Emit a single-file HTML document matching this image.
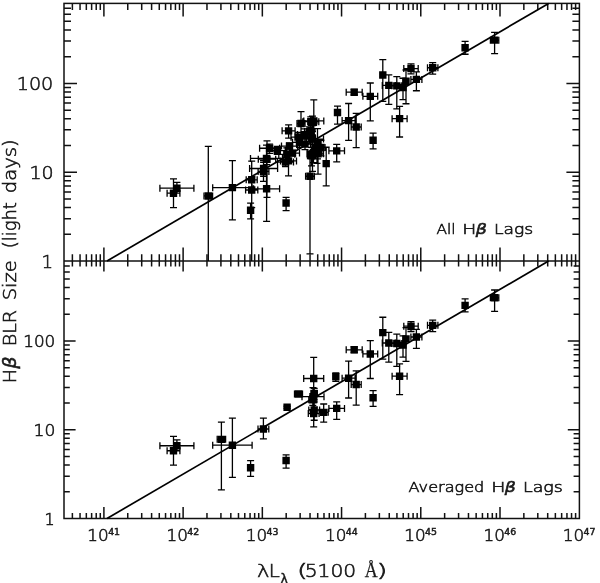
<!DOCTYPE html>
<html lang="en"><head><meta charset="utf-8"><title>H-beta BLR size vs luminosity</title>
<style>html,body{margin:0;padding:0;background:#fff}svg{display:block}</style></head>
<body>
<svg width="600" height="583" viewBox="0 0 600 583">
<rect width="600" height="583" fill="#fff"/>
<g stroke="#111" stroke-width="1.5" fill="none" stroke-linecap="butt">
<rect x="64.0" y="3.4" width="515.40" height="515.10"/>
<line x1="64.0" y1="261.0" x2="579.4" y2="261.0"/>
<path d="M72.38 3.4v6.50M80.05 3.4v6.50M86.33 3.4v6.50M91.63 3.4v6.50M96.22 3.4v6.50M100.28 3.4v6.50M103.90 3.4v13.00M127.75 3.4v6.50M141.70 3.4v6.50M151.60 3.4v6.50M159.27 3.4v6.50M165.55 3.4v6.50M170.85 3.4v6.50M175.44 3.4v6.50M179.50 3.4v6.50M183.12 3.4v13.00M206.97 3.4v6.50M220.92 3.4v6.50M230.82 3.4v6.50M238.49 3.4v6.50M244.77 3.4v6.50M250.07 3.4v6.50M254.66 3.4v6.50M258.72 3.4v6.50M262.34 3.4v13.00M286.19 3.4v6.50M300.14 3.4v6.50M310.04 3.4v6.50M317.71 3.4v6.50M323.99 3.4v6.50M329.29 3.4v6.50M333.88 3.4v6.50M337.94 3.4v6.50M341.56 3.4v13.00M365.41 3.4v6.50M379.36 3.4v6.50M389.26 3.4v6.50M396.93 3.4v6.50M403.21 3.4v6.50M408.51 3.4v6.50M413.10 3.4v6.50M417.16 3.4v6.50M420.78 3.4v13.00M444.63 3.4v6.50M458.58 3.4v6.50M468.48 3.4v6.50M476.15 3.4v6.50M482.43 3.4v6.50M487.73 3.4v6.50M492.32 3.4v6.50M496.38 3.4v6.50M500.00 3.4v13.00M523.85 3.4v6.50M537.80 3.4v6.50M547.70 3.4v6.50M555.37 3.4v6.50M561.65 3.4v6.50M566.95 3.4v6.50M571.54 3.4v6.50M575.60 3.4v6.50M72.38 261.0v-6.80M80.05 261.0v-6.80M86.33 261.0v-6.80M91.63 261.0v-6.80M96.22 261.0v-6.80M100.28 261.0v-6.80M103.90 261.0v-13.50M127.75 261.0v-6.80M141.70 261.0v-6.80M151.60 261.0v-6.80M159.27 261.0v-6.80M165.55 261.0v-6.80M170.85 261.0v-6.80M175.44 261.0v-6.80M179.50 261.0v-6.80M183.12 261.0v-13.50M206.97 261.0v-6.80M220.92 261.0v-6.80M230.82 261.0v-6.80M238.49 261.0v-6.80M244.77 261.0v-6.80M250.07 261.0v-6.80M254.66 261.0v-6.80M258.72 261.0v-6.80M262.34 261.0v-13.50M286.19 261.0v-6.80M300.14 261.0v-6.80M310.04 261.0v-6.80M317.71 261.0v-6.80M323.99 261.0v-6.80M329.29 261.0v-6.80M333.88 261.0v-6.80M337.94 261.0v-6.80M341.56 261.0v-13.50M365.41 261.0v-6.80M379.36 261.0v-6.80M389.26 261.0v-6.80M396.93 261.0v-6.80M403.21 261.0v-6.80M408.51 261.0v-6.80M413.10 261.0v-6.80M417.16 261.0v-6.80M420.78 261.0v-13.50M444.63 261.0v-6.80M458.58 261.0v-6.80M468.48 261.0v-6.80M476.15 261.0v-6.80M482.43 261.0v-6.80M487.73 261.0v-6.80M492.32 261.0v-6.80M496.38 261.0v-6.80M500.00 261.0v-13.50M523.85 261.0v-6.80M537.80 261.0v-6.80M547.70 261.0v-6.80M555.37 261.0v-6.80M561.65 261.0v-6.80M566.95 261.0v-6.80M571.54 261.0v-6.80M575.60 261.0v-6.80M72.38 261.0v5.40M80.05 261.0v5.40M86.33 261.0v5.40M91.63 261.0v5.40M96.22 261.0v5.40M100.28 261.0v5.40M103.90 261.0v10.60M127.75 261.0v5.40M141.70 261.0v5.40M151.60 261.0v5.40M159.27 261.0v5.40M165.55 261.0v5.40M170.85 261.0v5.40M175.44 261.0v5.40M179.50 261.0v5.40M183.12 261.0v10.60M206.97 261.0v5.40M220.92 261.0v5.40M230.82 261.0v5.40M238.49 261.0v5.40M244.77 261.0v5.40M250.07 261.0v5.40M254.66 261.0v5.40M258.72 261.0v5.40M262.34 261.0v10.60M286.19 261.0v5.40M300.14 261.0v5.40M310.04 261.0v5.40M317.71 261.0v5.40M323.99 261.0v5.40M329.29 261.0v5.40M333.88 261.0v5.40M337.94 261.0v5.40M341.56 261.0v10.60M365.41 261.0v5.40M379.36 261.0v5.40M389.26 261.0v5.40M396.93 261.0v5.40M403.21 261.0v5.40M408.51 261.0v5.40M413.10 261.0v5.40M417.16 261.0v5.40M420.78 261.0v10.60M444.63 261.0v5.40M458.58 261.0v5.40M468.48 261.0v5.40M476.15 261.0v5.40M482.43 261.0v5.40M487.73 261.0v5.40M492.32 261.0v5.40M496.38 261.0v5.40M500.00 261.0v10.60M523.85 261.0v5.40M537.80 261.0v5.40M547.70 261.0v5.40M555.37 261.0v5.40M561.65 261.0v5.40M566.95 261.0v5.40M571.54 261.0v5.40M575.60 261.0v5.40M72.38 518.5v-5.60M80.05 518.5v-5.60M86.33 518.5v-5.60M91.63 518.5v-5.60M96.22 518.5v-5.60M100.28 518.5v-5.60M103.90 518.5v-11.40M127.75 518.5v-5.60M141.70 518.5v-5.60M151.60 518.5v-5.60M159.27 518.5v-5.60M165.55 518.5v-5.60M170.85 518.5v-5.60M175.44 518.5v-5.60M179.50 518.5v-5.60M183.12 518.5v-11.40M206.97 518.5v-5.60M220.92 518.5v-5.60M230.82 518.5v-5.60M238.49 518.5v-5.60M244.77 518.5v-5.60M250.07 518.5v-5.60M254.66 518.5v-5.60M258.72 518.5v-5.60M262.34 518.5v-11.40M286.19 518.5v-5.60M300.14 518.5v-5.60M310.04 518.5v-5.60M317.71 518.5v-5.60M323.99 518.5v-5.60M329.29 518.5v-5.60M333.88 518.5v-5.60M337.94 518.5v-5.60M341.56 518.5v-11.40M365.41 518.5v-5.60M379.36 518.5v-5.60M389.26 518.5v-5.60M396.93 518.5v-5.60M403.21 518.5v-5.60M408.51 518.5v-5.60M413.10 518.5v-5.60M417.16 518.5v-5.60M420.78 518.5v-11.40M444.63 518.5v-5.60M458.58 518.5v-5.60M468.48 518.5v-5.60M476.15 518.5v-5.60M482.43 518.5v-5.60M487.73 518.5v-5.60M492.32 518.5v-5.60M496.38 518.5v-5.60M500.00 518.5v-11.40M523.85 518.5v-5.60M537.80 518.5v-5.60M547.70 518.5v-5.60M555.37 518.5v-5.60M561.65 518.5v-5.60M566.95 518.5v-5.60M571.54 518.5v-5.60M575.60 518.5v-5.60"/>
<path d="M64.0 234.27h7.00M579.4 234.27h-7.00M64.0 218.63h7.00M579.4 218.63h-7.00M64.0 207.54h7.00M579.4 207.54h-7.00M64.0 198.93h7.00M579.4 198.93h-7.00M64.0 191.90h7.00M579.4 191.90h-7.00M64.0 185.96h7.00M579.4 185.96h-7.00M64.0 180.81h7.00M579.4 180.81h-7.00M64.0 176.26h7.00M579.4 176.26h-7.00M64.0 172.20h13.00M579.4 172.20h-13.00M64.0 145.47h7.00M579.4 145.47h-7.00M64.0 129.83h7.00M579.4 129.83h-7.00M64.0 118.74h7.00M579.4 118.74h-7.00M64.0 110.13h7.00M579.4 110.13h-7.00M64.0 103.10h7.00M579.4 103.10h-7.00M64.0 97.16h7.00M579.4 97.16h-7.00M64.0 92.01h7.00M579.4 92.01h-7.00M64.0 87.46h7.00M579.4 87.46h-7.00M64.0 83.40h13.00M579.4 83.40h-13.00M64.0 56.67h7.00M579.4 56.67h-7.00M64.0 41.03h7.00M579.4 41.03h-7.00M64.0 29.94h7.00M579.4 29.94h-7.00M64.0 21.33h7.00M579.4 21.33h-7.00M64.0 14.30h7.00M579.4 14.30h-7.00M64.0 8.36h7.00M579.4 8.36h-7.00M64.0 491.78h5.80M579.4 491.78h-5.80M64.0 476.16h5.80M579.4 476.16h-5.80M64.0 465.07h5.80M579.4 465.07h-5.80M64.0 456.47h5.80M579.4 456.47h-5.80M64.0 449.44h5.80M579.4 449.44h-5.80M64.0 443.50h5.80M579.4 443.50h-5.80M64.0 438.35h5.80M579.4 438.35h-5.80M64.0 433.81h5.80M579.4 433.81h-5.80M64.0 429.75h11.60M579.4 429.75h-11.60M64.0 403.03h5.80M579.4 403.03h-5.80M64.0 387.41h5.80M579.4 387.41h-5.80M64.0 376.32h5.80M579.4 376.32h-5.80M64.0 367.72h5.80M579.4 367.72h-5.80M64.0 360.69h5.80M579.4 360.69h-5.80M64.0 354.75h5.80M579.4 354.75h-5.80M64.0 349.60h5.80M579.4 349.60h-5.80M64.0 345.06h5.80M579.4 345.06h-5.80M64.0 341.00h11.60M579.4 341.00h-11.60M64.0 314.28h5.80M579.4 314.28h-5.80M64.0 298.66h5.80M579.4 298.66h-5.80M64.0 287.57h5.80M579.4 287.57h-5.80M64.0 278.97h5.80M579.4 278.97h-5.80M64.0 271.94h5.80M579.4 271.94h-5.80M64.0 266.00h5.80M579.4 266.00h-5.80"/>
</g>
<g stroke="#000" stroke-width="1.7" fill="none">
<line x1="107.0" y1="261.0" x2="548.6" y2="3.4"/>
<line x1="107.0" y1="518.5" x2="548.6" y2="261.0"/>
</g>
<path d="M173.50 178.92V207.54M170.00 178.92h7.0M170.00 207.54h7.0M167.10 193.21H179.90M167.10 189.71v7.0M179.90 189.71v7.0M176.90 182.28V193.21M173.40 182.28h7.0M173.40 193.21h7.0M159.90 188.22H193.90M159.90 184.72v7.0M193.90 184.72v7.0M208.30 146.44V261.00M204.80 146.44h7.0M204.00 195.96H212.60M204.00 192.46v7.0M212.60 192.46v7.0M232.40 160.63V219.94M228.90 160.63h7.0M228.90 219.94h7.0M212.70 187.64H252.10M212.70 184.14v7.0M252.10 184.14v7.0M251.70 161.20V261.00M248.20 161.20h7.0M246.20 179.85H257.20M246.20 176.35v7.0M257.20 176.35v7.0M251.70 176.69V207.54M248.20 176.69h7.0M248.20 207.54h7.0M245.60 190.02H257.80M245.60 186.52v7.0M257.80 186.52v7.0M250.60 203.17V218.89M247.10 203.17h7.0M247.10 218.89h7.0M266.60 164.53V221.29M263.10 164.53h7.0M263.10 221.29h7.0M253.60 188.81H279.60M253.60 185.31v7.0M279.60 185.31v7.0M263.50 160.63V181.29M260.00 160.63h7.0M260.00 181.29h7.0M258.10 171.44H268.90M258.10 167.94v7.0M268.90 167.94v7.0M263.60 162.38V176.26M260.10 162.38h7.0M260.10 176.26h7.0M249.60 168.52H277.60M249.60 165.02v7.0M277.60 165.02v7.0M267.00 140.93V197.42M263.50 140.93h7.0M263.50 197.42h7.0M258.30 159.22H275.70M258.30 155.72v7.0M275.70 155.72v7.0M266.50 145.08V185.96M263.00 145.08h7.0M263.00 185.96h7.0M250.50 158.41H282.50M250.50 154.91v7.0M282.50 154.91v7.0M269.60 144.14V153.36M266.10 144.14h7.0M266.10 153.36h7.0M259.60 148.27H279.60M259.60 144.77v7.0M279.60 144.77v7.0M277.30 146.44V154.32M273.80 146.44h7.0M273.80 154.32h7.0M269.30 150.62H285.30M269.30 147.12v7.0M285.30 147.12v7.0M288.60 124.89V138.12M285.10 124.89h7.0M285.10 138.12h7.0M282.10 130.87H295.10M282.10 127.37v7.0M295.10 127.37v7.0M289.50 143.22V149.11M286.00 143.22h7.0M286.00 149.11h7.0M281.50 146.05H297.50M281.50 142.55v7.0M297.50 142.55v7.0M286.80 147.85V160.91M283.30 147.85h7.0M283.30 160.91h7.0M278.80 154.32H294.80M278.80 150.82v7.0M294.80 150.82v7.0M285.50 157.61V166.48M282.00 157.61h7.0M282.00 166.48h7.0M277.50 162.08H293.50M277.50 158.58v7.0M293.50 158.58v7.0M288.50 151.29V175.84M285.00 151.29h7.0M285.00 175.84h7.0M280.50 160.91H296.50M280.50 157.41v7.0M296.50 157.41v7.0M292.50 150.40V155.80M289.00 150.40h7.0M289.00 155.80h7.0M285.50 153.12H299.50M285.50 149.62v7.0M299.50 149.62v7.0M299.50 137.96V147.24M296.00 137.96h7.0M296.00 147.24h7.0M292.50 142.32H306.50M292.50 138.82v7.0M306.50 138.82v7.0M298.00 132.49V142.15M294.50 132.49h7.0M294.50 142.15h7.0M291.00 137.17H305.00M291.00 133.67v7.0M305.00 133.67v7.0M304.50 128.82V137.96M301.00 128.82h7.0M301.00 137.96h7.0M297.50 134.62H311.50M297.50 131.12v7.0M311.50 131.12v7.0M301.00 111.55V136.40M297.50 111.55h7.0M297.50 136.40h7.0M297.00 123.56H305.00M297.00 120.06v7.0M305.00 120.06v7.0M305.00 138.12V149.53M301.50 138.12h7.0M301.50 149.53h7.0M299.50 144.14H310.50M299.50 140.64v7.0M310.50 140.64v7.0M309.50 126.86V137.48M306.00 126.86h7.0M306.00 137.48h7.0M304.70 131.41H314.30M304.70 127.91v7.0M314.30 127.91v7.0M310.80 116.95V127.71M307.30 116.95h7.0M307.30 127.71h7.0M302.80 121.64H318.80M302.80 118.14v7.0M318.80 118.14v7.0M313.80 99.78V140.93M310.30 99.78h7.0M310.30 140.93h7.0M303.80 120.92H323.80M303.80 117.42v7.0M323.80 117.42v7.0M310.00 151.06V253.97M306.50 151.06h7.0M306.50 253.97h7.0M305.60 176.26H314.40M305.60 172.76v7.0M314.40 172.76v7.0M318.00 140.58V174.18M314.50 140.58h7.0M314.50 174.18h7.0M312.50 153.83H323.50M312.50 150.33v7.0M323.50 150.33v7.0M312.50 141.10V171.44M309.00 141.10h7.0M309.00 171.44h7.0M307.00 154.07H318.00M307.00 150.57v7.0M318.00 150.57v7.0M312.00 130.09V154.07M308.50 130.09h7.0M308.50 154.07h7.0M308.80 137.96H315.20M308.80 134.46v7.0M315.20 134.46v7.0M317.50 128.69V158.95M314.00 128.69h7.0M314.00 158.95h7.0M314.30 144.70H320.70M314.30 141.20v7.0M320.70 141.20v7.0M313.50 144.33V162.68M310.00 144.33h7.0M310.00 162.68h7.0M307.20 152.42H319.80M307.20 148.92v7.0M319.80 148.92v7.0M317.00 142.50V163.29M313.50 142.50h7.0M313.50 163.29h7.0M312.20 152.19H321.80M312.20 148.69v7.0M321.80 148.69v7.0M326.20 147.24V185.96M322.70 147.24h7.0M322.70 185.96h7.0M321.00 140.25V155.80M317.50 140.25h7.0M317.50 155.80h7.0M317.00 147.45H325.00M317.00 143.95v7.0M325.00 143.95v7.0M311.50 147.45V165.82M308.00 147.45h7.0M308.00 165.82h7.0M307.50 155.80H315.50M307.50 152.30v7.0M315.50 152.30v7.0M312.50 116.13V131.54M309.00 116.13h7.0M309.00 131.54h7.0M308.50 122.48H316.50M308.50 118.98v7.0M316.50 118.98v7.0M312.50 130.09V151.96M309.00 130.09h7.0M309.00 151.96h7.0M301.50 139.09H323.50M301.50 135.59v7.0M323.50 135.59v7.0M337.50 106.18V124.22M334.00 106.18h7.0M334.00 124.22h7.0M286.10 197.42V210.54M282.60 197.42h7.0M282.60 210.54h7.0M336.70 144.33V161.79M333.20 144.33h7.0M333.20 161.79h7.0M328.90 150.84H344.50M328.90 147.34v7.0M344.50 147.34v7.0M348.60 103.49V140.42M345.10 103.49h7.0M345.10 140.42h7.0M342.10 120.61H355.10M342.10 117.11v7.0M355.10 117.11v7.0M356.20 113.35V147.65M352.70 113.35h7.0M352.70 147.65h7.0M351.20 126.98H361.20M351.20 123.48v7.0M361.20 123.48v7.0M354.20 89.35V94.91M350.70 89.35h7.0M350.70 94.91h7.0M346.20 92.20H362.20M346.20 88.70v7.0M362.20 88.70v7.0M370.30 82.98V120.92M366.80 82.98h7.0M366.80 120.92h7.0M362.90 96.34H377.70M362.90 92.84v7.0M377.70 92.84v7.0M373.10 133.05V148.89M369.60 133.05h7.0M369.60 148.89h7.0M382.80 59.61V101.46M379.30 59.61h7.0M379.30 101.46h7.0M388.80 74.83V104.47M385.30 74.83h7.0M385.30 104.47h7.0M382.30 85.38H395.30M382.30 81.88v7.0M395.30 81.88v7.0M396.80 76.56V108.84M393.30 76.56h7.0M393.30 108.84h7.0M391.80 85.87H401.80M391.80 82.37v7.0M401.80 82.37v7.0M403.00 78.25V99.60M399.50 78.25h7.0M399.50 99.60h7.0M406.00 69.99V103.75M402.50 69.99h7.0M402.50 103.75h7.0M399.60 106.39V137.02M396.10 106.39h7.0M396.10 137.02h7.0M392.10 118.64H407.10M392.10 115.14v7.0M407.10 115.14v7.0M411.00 63.92V73.88M407.50 63.92h7.0M407.50 73.88h7.0M403.80 68.57H418.20M403.80 65.07v7.0M418.20 65.07v7.0M416.40 71.80V90.73M412.90 71.80h7.0M412.90 90.73h7.0M410.90 79.38H421.90M410.90 75.88v7.0M421.90 75.88v7.0M432.70 62.55V74.03M429.20 62.55h7.0M429.20 74.03h7.0M427.50 67.74H437.90M427.50 64.24v7.0M437.90 64.24v7.0M465.10 41.33V54.24M461.60 41.33h7.0M461.60 54.24h7.0M494.60 32.40V53.72M491.10 32.40h7.0M491.10 53.72h7.0M490.40 40.17H498.80M490.40 36.67v7.0M498.80 36.67v7.0" stroke="#000" stroke-width="1.3" fill="none"/>
<path d="M169.80 189.51h7.4v7.4h-7.4zM173.20 184.52h7.4v7.4h-7.4zM204.60 192.26h7.4v7.4h-7.4zM228.70 183.94h7.4v7.4h-7.4zM248.00 176.15h7.4v7.4h-7.4zM248.00 186.32h7.4v7.4h-7.4zM246.90 206.53h7.4v7.4h-7.4zM262.90 185.11h7.4v7.4h-7.4zM259.80 167.74h7.4v7.4h-7.4zM259.90 164.82h7.4v7.4h-7.4zM263.30 155.52h7.4v7.4h-7.4zM262.80 154.71h7.4v7.4h-7.4zM265.90 144.57h7.4v7.4h-7.4zM273.60 146.92h7.4v7.4h-7.4zM284.90 127.17h7.4v7.4h-7.4zM285.80 142.35h7.4v7.4h-7.4zM283.10 150.62h7.4v7.4h-7.4zM281.80 158.38h7.4v7.4h-7.4zM284.80 157.21h7.4v7.4h-7.4zM288.80 149.42h7.4v7.4h-7.4zM295.80 138.62h7.4v7.4h-7.4zM294.30 133.47h7.4v7.4h-7.4zM300.80 130.92h7.4v7.4h-7.4zM297.30 119.86h7.4v7.4h-7.4zM301.30 140.44h7.4v7.4h-7.4zM305.80 127.71h7.4v7.4h-7.4zM307.10 117.94h7.4v7.4h-7.4zM310.10 117.22h7.4v7.4h-7.4zM306.30 172.56h7.4v7.4h-7.4zM314.30 150.13h7.4v7.4h-7.4zM308.80 150.37h7.4v7.4h-7.4zM308.30 134.26h7.4v7.4h-7.4zM313.80 141.00h7.4v7.4h-7.4zM309.80 148.72h7.4v7.4h-7.4zM313.30 148.49h7.4v7.4h-7.4zM322.50 159.89h7.4v7.4h-7.4zM317.30 143.75h7.4v7.4h-7.4zM307.80 152.10h7.4v7.4h-7.4zM308.80 118.78h7.4v7.4h-7.4zM308.80 135.39h7.4v7.4h-7.4zM333.80 108.74h7.4v7.4h-7.4zM282.40 199.29h7.4v7.4h-7.4zM333.00 147.14h7.4v7.4h-7.4zM344.90 116.91h7.4v7.4h-7.4zM352.50 123.28h7.4v7.4h-7.4zM350.50 88.50h7.4v7.4h-7.4zM366.60 92.64h7.4v7.4h-7.4zM369.40 136.55h7.4v7.4h-7.4zM379.10 71.31h7.4v7.4h-7.4zM385.10 81.68h7.4v7.4h-7.4zM393.10 82.17h7.4v7.4h-7.4zM399.30 83.85h7.4v7.4h-7.4zM402.30 77.60h7.4v7.4h-7.4zM395.90 114.94h7.4v7.4h-7.4zM407.30 64.87h7.4v7.4h-7.4zM412.70 75.68h7.4v7.4h-7.4zM429.00 64.04h7.4v7.4h-7.4zM461.40 44.09h7.4v7.4h-7.4zM490.90 36.47h7.4v7.4h-7.4z" fill="#000"/>
<path d="M173.50 436.47V465.07M170.00 436.47h7.0M170.00 465.07h7.0M167.10 450.75H179.90M167.10 447.25v7.0M179.90 447.25v7.0M176.90 439.82V450.75M173.40 439.82h7.0M173.40 450.75h7.0M159.90 445.77H193.90M159.90 442.27v7.0M193.90 442.27v7.0M221.40 422.09V489.90M217.90 422.09h7.0M217.90 489.90h7.0M217.20 439.33H225.60M217.20 435.83v7.0M225.60 435.83v7.0M232.40 418.18V477.46M228.90 418.18h7.0M228.90 477.46h7.0M212.70 445.19H252.10M212.70 441.69v7.0M252.10 441.69v7.0M250.60 460.70V476.41M247.10 460.70h7.0M247.10 476.41h7.0M263.40 418.18V438.84M259.90 418.18h7.0M259.90 438.84h7.0M258.00 428.99H268.80M258.00 425.49v7.0M268.80 425.49v7.0M286.10 454.95V468.07M282.60 454.95h7.0M282.60 468.07h7.0M287.10 406.25V408.40M283.60 406.25h7.0M283.60 408.40h7.0M298.50 391.75V396.33M295.00 391.75h7.0M295.00 396.33h7.0M294.50 393.97H302.50M294.50 390.47v7.0M302.50 390.47v7.0M313.70 357.37V398.49M310.20 357.37h7.0M310.20 398.49h7.0M303.70 378.50H323.70M303.70 375.00v7.0M323.70 375.00v7.0M314.20 388.32V399.54M310.70 388.32h7.0M310.70 399.54h7.0M311.20 393.52H317.20M311.20 390.02v7.0M317.20 390.02v7.0M313.00 387.66V409.53M309.50 387.66h7.0M309.50 409.53h7.0M302.00 396.65H324.00M302.00 393.15v7.0M324.00 393.15v7.0M312.80 395.69V405.42M309.30 395.69h7.0M309.30 405.42h7.0M308.80 399.71H316.80M308.80 396.21v7.0M316.80 396.21v7.0M314.20 401.89V420.24M310.70 401.89h7.0M310.70 420.24h7.0M308.80 409.98H319.60M308.80 406.48v7.0M319.60 406.48v7.0M313.70 402.46V426.78M310.20 402.46h7.0M310.20 426.78h7.0M308.30 413.61H319.10M308.30 410.11v7.0M319.10 410.11v7.0M323.70 404.01V422.09M320.20 404.01h7.0M320.20 422.09h7.0M319.20 412.36H328.20M319.20 408.86v7.0M328.20 408.86v7.0M335.80 373.00V381.24M332.30 373.00h7.0M332.30 381.24h7.0M336.70 401.89V419.34M333.20 401.89h7.0M333.20 419.34h7.0M328.90 408.40H344.50M328.90 404.90v7.0M344.50 404.90v7.0M348.60 361.08V397.98M345.10 361.08h7.0M345.10 397.98h7.0M342.10 378.19H355.10M342.10 374.69v7.0M355.10 374.69v7.0M356.20 370.93V405.21M352.70 370.93h7.0M352.70 405.21h7.0M351.20 384.56H361.20M351.20 381.06v7.0M361.20 381.06v7.0M354.20 346.95V352.50M350.70 346.95h7.0M350.70 352.50h7.0M346.20 349.79H362.20M346.20 346.29v7.0M362.20 346.29v7.0M370.30 340.58V378.50M366.80 340.58h7.0M366.80 378.50h7.0M362.90 353.93H377.70M362.90 350.43v7.0M377.70 350.43v7.0M373.10 390.62V406.46M369.60 390.62h7.0M369.60 406.46h7.0M382.80 317.23V359.05M379.30 317.23h7.0M379.30 359.05h7.0M388.80 332.43V362.06M385.30 332.43h7.0M385.30 362.06h7.0M382.30 342.98H395.30M382.30 339.48v7.0M395.30 339.48v7.0M396.80 334.17V366.43M393.30 334.17h7.0M393.30 366.43h7.0M391.80 343.47H401.80M391.80 339.97v7.0M401.80 339.97v7.0M403.00 335.85V357.19M399.50 335.85h7.0M399.50 357.19h7.0M406.00 327.59V361.34M402.50 327.59h7.0M402.50 361.34h7.0M399.60 363.97V394.59M396.10 363.97h7.0M396.10 394.59h7.0M392.10 376.22H407.10M392.10 372.72v7.0M407.10 372.72v7.0M411.00 321.54V331.49M407.50 321.54h7.0M407.50 331.49h7.0M403.80 326.18H418.20M403.80 322.68v7.0M418.20 322.68v7.0M416.40 329.40V348.32M412.90 329.40h7.0M412.90 348.32h7.0M410.90 336.98H421.90M410.90 333.48v7.0M421.90 333.48v7.0M432.70 320.16V331.64M429.20 320.16h7.0M429.20 331.64h7.0M427.50 325.35H437.90M427.50 321.85v7.0M437.90 321.85v7.0M465.10 298.95V311.86M461.60 298.95h7.0M461.60 311.86h7.0M494.60 290.02V311.34M491.10 290.02h7.0M491.10 311.34h7.0M490.40 297.79H498.80M490.40 294.29v7.0M498.80 294.29v7.0" stroke="#000" stroke-width="1.3" fill="none"/>
<path d="M169.80 447.05h7.4v7.4h-7.4zM173.20 442.07h7.4v7.4h-7.4zM217.70 435.63h7.4v7.4h-7.4zM228.70 441.49h7.4v7.4h-7.4zM246.90 464.06h7.4v7.4h-7.4zM259.70 425.29h7.4v7.4h-7.4zM282.40 456.83h7.4v7.4h-7.4zM283.40 403.61h7.4v7.4h-7.4zM294.80 390.27h7.4v7.4h-7.4zM310.00 374.80h7.4v7.4h-7.4zM310.50 389.82h7.4v7.4h-7.4zM309.30 392.95h7.4v7.4h-7.4zM309.10 396.01h7.4v7.4h-7.4zM310.50 406.28h7.4v7.4h-7.4zM310.00 409.91h7.4v7.4h-7.4zM320.00 408.66h7.4v7.4h-7.4zM332.10 372.91h7.4v7.4h-7.4zM333.00 404.70h7.4v7.4h-7.4zM344.90 374.49h7.4v7.4h-7.4zM352.50 380.86h7.4v7.4h-7.4zM350.50 346.09h7.4v7.4h-7.4zM366.60 350.23h7.4v7.4h-7.4zM369.40 394.11h7.4v7.4h-7.4zM379.10 328.92h7.4v7.4h-7.4zM385.10 339.28h7.4v7.4h-7.4zM393.10 339.77h7.4v7.4h-7.4zM399.30 341.45h7.4v7.4h-7.4zM402.30 335.20h7.4v7.4h-7.4zM395.90 372.52h7.4v7.4h-7.4zM407.30 322.48h7.4v7.4h-7.4zM412.70 333.28h7.4v7.4h-7.4zM429.00 321.65h7.4v7.4h-7.4zM461.40 301.71h7.4v7.4h-7.4zM490.90 294.09h7.4v7.4h-7.4z" fill="#000"/>
<g fill="#1a1a1a">
<text transform="translate(16.71 90.35) scale(1.047 1)" font-family="'DejaVu Sans', 'Liberation Sans', sans-serif" font-weight="200" font-size="18.30" stroke="#1a1a1a" stroke-width="0.6">100</text>
<text transform="translate(29.42 179.15) scale(1.041 1)" font-family="'DejaVu Sans', 'Liberation Sans', sans-serif" font-weight="200" font-size="18.30" stroke="#1a1a1a" stroke-width="0.6">10</text>
<text transform="translate(41.54 267.90) scale(1.000 1)" font-family="'DejaVu Sans', 'Liberation Sans', sans-serif" font-weight="200" font-size="18.30" stroke="#1a1a1a" stroke-width="0.6">1</text>
<text transform="translate(23.16 347.05) scale(1.059 1)" font-family="'DejaVu Sans', 'Liberation Sans', sans-serif" font-weight="200" font-size="15.93" stroke="#1a1a1a" stroke-width="0.6">100</text>
<text transform="translate(33.53 435.80) scale(1.075 1)" font-family="'DejaVu Sans', 'Liberation Sans', sans-serif" font-weight="200" font-size="15.93" stroke="#1a1a1a" stroke-width="0.6">10</text>
<text transform="translate(44.59 524.70) scale(1.000 1)" font-family="'DejaVu Sans', 'Liberation Sans', sans-serif" font-weight="200" font-size="15.93" stroke="#1a1a1a" stroke-width="0.6">1</text>
<text transform="translate(87.36 540.80) scale(1.040 1)" font-family="'DejaVu Sans', 'Liberation Sans', sans-serif" font-weight="200" font-size="16.20" stroke="#1a1a1a" stroke-width="0.6">10</text>
<text transform="translate(108.15 535.40) scale(1.000 1)" font-family="'DejaVu Sans', 'Liberation Sans', sans-serif" font-weight="400" font-size="9.35" stroke="#1a1a1a" stroke-width="0.5">41</text>
<text transform="translate(166.58 540.80) scale(1.040 1)" font-family="'DejaVu Sans', 'Liberation Sans', sans-serif" font-weight="200" font-size="16.20" stroke="#1a1a1a" stroke-width="0.6">10</text>
<text transform="translate(187.37 535.40) scale(1.000 1)" font-family="'DejaVu Sans', 'Liberation Sans', sans-serif" font-weight="400" font-size="9.35" stroke="#1a1a1a" stroke-width="0.5">42</text>
<text transform="translate(245.80 540.80) scale(1.040 1)" font-family="'DejaVu Sans', 'Liberation Sans', sans-serif" font-weight="200" font-size="16.20" stroke="#1a1a1a" stroke-width="0.6">10</text>
<text transform="translate(266.59 535.40) scale(1.000 1)" font-family="'DejaVu Sans', 'Liberation Sans', sans-serif" font-weight="400" font-size="9.35" stroke="#1a1a1a" stroke-width="0.5">43</text>
<text transform="translate(325.02 540.80) scale(1.040 1)" font-family="'DejaVu Sans', 'Liberation Sans', sans-serif" font-weight="200" font-size="16.20" stroke="#1a1a1a" stroke-width="0.6">10</text>
<text transform="translate(345.81 535.40) scale(1.000 1)" font-family="'DejaVu Sans', 'Liberation Sans', sans-serif" font-weight="400" font-size="9.35" stroke="#1a1a1a" stroke-width="0.5">44</text>
<text transform="translate(404.24 540.80) scale(1.040 1)" font-family="'DejaVu Sans', 'Liberation Sans', sans-serif" font-weight="200" font-size="16.20" stroke="#1a1a1a" stroke-width="0.6">10</text>
<text transform="translate(425.03 535.40) scale(1.000 1)" font-family="'DejaVu Sans', 'Liberation Sans', sans-serif" font-weight="400" font-size="9.35" stroke="#1a1a1a" stroke-width="0.5">45</text>
<text transform="translate(483.46 540.80) scale(1.040 1)" font-family="'DejaVu Sans', 'Liberation Sans', sans-serif" font-weight="200" font-size="16.20" stroke="#1a1a1a" stroke-width="0.6">10</text>
<text transform="translate(504.25 535.40) scale(1.000 1)" font-family="'DejaVu Sans', 'Liberation Sans', sans-serif" font-weight="400" font-size="9.35" stroke="#1a1a1a" stroke-width="0.5">46</text>
<text transform="translate(562.68 540.80) scale(1.040 1)" font-family="'DejaVu Sans', 'Liberation Sans', sans-serif" font-weight="200" font-size="16.20" stroke="#1a1a1a" stroke-width="0.6">10</text>
<text transform="translate(583.47 535.40) scale(1.000 1)" font-family="'DejaVu Sans', 'Liberation Sans', sans-serif" font-weight="400" font-size="9.35" stroke="#1a1a1a" stroke-width="0.5">47</text>
<text transform="translate(436.55 234.40) scale(1.043 1)" font-family="'DejaVu Sans', 'Liberation Sans', sans-serif" font-weight="200" font-size="14.75" stroke="#1a1a1a" stroke-width="0.6">All</text>
<text transform="translate(462.23 234.40) scale(1.270 1)" font-family="'DejaVu Sans', 'Liberation Sans', sans-serif" font-weight="200" font-size="14.75" stroke="#1a1a1a" stroke-width="0.6">H</text>
<text transform="translate(475.82 234.40) scale(1.247 1)" font-family="'DejaVu Sans', 'Liberation Sans', sans-serif" font-weight="400" font-style="italic" font-size="14.01" stroke="#1a1a1a" stroke-width="0.55">β</text>
<text transform="translate(493.91 234.40) scale(1.163 1)" font-family="'DejaVu Sans', 'Liberation Sans', sans-serif" font-weight="200" font-size="14.75" stroke="#1a1a1a" stroke-width="0.6">Lags</text>
<text transform="translate(408.53 491.90) scale(1.092 1)" font-family="'DejaVu Sans', 'Liberation Sans', sans-serif" font-weight="200" font-size="14.75" stroke="#1a1a1a" stroke-width="0.6">Averaged</text>
<text transform="translate(491.21 491.90) scale(1.284 1)" font-family="'DejaVu Sans', 'Liberation Sans', sans-serif" font-weight="200" font-size="14.75" stroke="#1a1a1a" stroke-width="0.6">H</text>
<text transform="translate(504.82 491.90) scale(1.235 1)" font-family="'DejaVu Sans', 'Liberation Sans', sans-serif" font-weight="400" font-style="italic" font-size="14.01" stroke="#1a1a1a" stroke-width="0.55">β</text>
<text transform="translate(522.97 491.90) scale(1.183 1)" font-family="'DejaVu Sans', 'Liberation Sans', sans-serif" font-weight="200" font-size="14.75" stroke="#1a1a1a" stroke-width="0.6">Lags</text>
<text transform="translate(257.09 576.70) scale(1.181 1)" font-family="'DejaVu Sans', 'Liberation Sans', sans-serif" font-weight="200" font-size="17.78" stroke="#1a1a1a" stroke-width="0.6">λ</text>
<text transform="translate(268.78 576.70) scale(1.114 1)" font-family="'DejaVu Sans', 'Liberation Sans', sans-serif" font-weight="200" font-size="17.78" stroke="#1a1a1a" stroke-width="0.6">L</text>
<text transform="translate(279.89 584.40) scale(1.058 1)" font-family="'DejaVu Sans', 'Liberation Sans', sans-serif" font-weight="400" font-size="13.30" stroke="#1a1a1a" stroke-width="0.3">λ</text>
<text transform="translate(297.02 576.70) scale(1.540 1)" font-family="'DejaVu Sans', 'Liberation Sans', sans-serif" font-weight="200" font-size="17.78" stroke="#1a1a1a" stroke-width="0.6">(</text>
<text transform="translate(304.72 576.70) scale(1.139 1)" font-family="'DejaVu Sans', 'Liberation Sans', sans-serif" font-weight="200" font-size="17.78" stroke="#1a1a1a" stroke-width="0.6">5100</text>
<text transform="translate(364.84 576.70) scale(0.860 1)" font-family="'Liberation Serif', 'DejaVu Serif', serif" font-weight="400" font-size="20.76" stroke="#1a1a1a" stroke-width="0.3">Å</text>
<text transform="translate(376.46 576.70) scale(1.571 1)" font-family="'DejaVu Sans', 'Liberation Sans', sans-serif" font-weight="200" font-size="17.78" stroke="#1a1a1a" stroke-width="0.6">)</text>
<g transform="translate(16.2 381) rotate(-90)">
<text transform="translate(-2.21 0.00) scale(1.076 1)" font-family="'DejaVu Sans', 'Liberation Sans', sans-serif" font-weight="200" font-size="17.78" stroke="#1a1a1a" stroke-width="0.6">H</text>
<text transform="translate(12.42 0.00) scale(1.106 1)" font-family="'DejaVu Sans', 'Liberation Sans', sans-serif" font-weight="400" font-style="italic" font-size="16.89" stroke="#1a1a1a" stroke-width="0.55">β</text>
<text transform="translate(34.66 0.00) scale(1.072 1)" font-family="'DejaVu Sans', 'Liberation Sans', sans-serif" font-weight="200" font-size="17.78" stroke="#1a1a1a" stroke-width="0.6">BLR</text>
<text transform="translate(80.68 0.00) scale(1.101 1)" font-family="'DejaVu Sans', 'Liberation Sans', sans-serif" font-weight="200" font-size="17.78" stroke="#1a1a1a" stroke-width="0.6">Size</text>
<text transform="translate(132.75 0.00) scale(1.008 1)" font-family="'DejaVu Sans', 'Liberation Sans', sans-serif" font-weight="200" font-size="17.78" stroke="#1a1a1a" stroke-width="0.6">(light</text>
<text transform="translate(187.75 0.00) scale(1.104 1)" font-family="'DejaVu Sans', 'Liberation Sans', sans-serif" font-weight="200" font-size="17.78" stroke="#1a1a1a" stroke-width="0.6">days)</text>
</g>
</g>
</svg>
</body></html>
